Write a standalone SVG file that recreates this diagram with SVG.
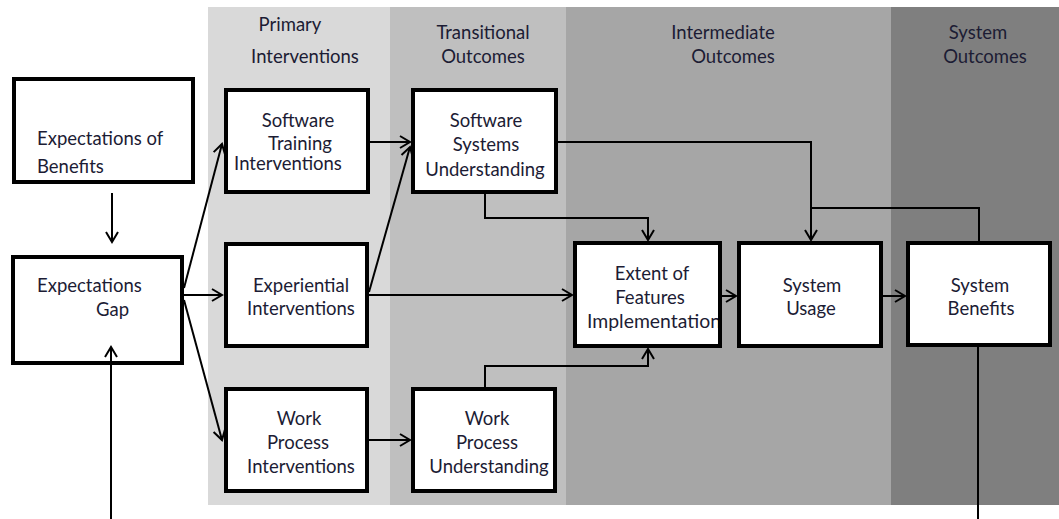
<svg xmlns="http://www.w3.org/2000/svg" width="1059" height="519" viewBox="0 0 1059 519">
<style>
.t{font-family:Lato,"Open Sans","Liberation Sans",sans-serif;font-size:18.5px;fill:#1c1c34}
.m{text-anchor:middle}
.box{fill:#ffffff;stroke:#000000;stroke-width:4}
.c{fill:none;stroke:#000000;stroke-width:2}
.a{marker-end:url(#arr)}
</style>
<defs>
<marker id="arr" markerUnits="userSpaceOnUse" markerWidth="14" markerHeight="16" viewBox="-1 -1 14 16" refX="11" refY="7" orient="auto">
<path d="M1,1 L11,7 L1,13" fill="none" stroke="#000000" stroke-width="2"/>
</marker>
</defs>
<g id="panels">
<rect x="208" y="7" width="182" height="498" fill="#d9d9d9"/>
<rect x="390" y="7" width="176" height="498" fill="#bfbfbf"/>
<rect x="566" y="7" width="325" height="498" fill="#a6a6a6"/>
<rect x="891" y="7" width="168" height="498" fill="#7f7f7f"/>
<text class="t m" x="290" y="31">Primary</text>
<text class="t m" x="305" y="63">Interventions</text>
<text class="t m" x="483" y="39">Transitional</text>
<text class="t m" x="483" y="63">Outcomes</text>
<text class="t m" x="723" y="39">Intermediate</text>
<text class="t m" x="733" y="63">Outcomes</text>
<text class="t m" x="978" y="39">System</text>
<text class="t m" x="985" y="63">Outcomes</text>
</g>
<g id="expectations-of-benefits">
<rect class="box" x="14" y="79" width="179" height="103"/>
<text class="t" x="37" y="145">Expectations of</text>
<text class="t" x="37" y="173">Benefits</text>
</g>
<g id="expectations-gap">
<rect class="box" x="13" y="257" width="169" height="106"/>
<text class="t" x="37" y="292">Expectations</text>
<text class="t" x="96" y="316">Gap</text>
</g>
<g id="software-training-interventions">
<rect class="box" x="226" y="90" width="142" height="102"/>
<text class="t m" x="298" y="127">Software</text>
<text class="t m" x="300" y="150">Training</text>
<text class="t m" x="288" y="170">Interventions</text>
</g>
<g id="experiential-interventions">
<rect class="box" x="226" y="244" width="141" height="102"/>
<text class="t m" x="301" y="292">Experiential</text>
<text class="t m" x="301" y="315">Interventions</text>
</g>
<g id="work-process-interventions">
<rect class="box" x="226" y="389" width="141" height="102"/>
<text class="t m" x="299" y="425">Work</text>
<text class="t m" x="298" y="449">Process</text>
<text class="t m" x="301" y="473">Interventions</text>
</g>
<g id="software-systems-understanding">
<rect class="box" x="413" y="90" width="143" height="102"/>
<text class="t m" x="486" y="127">Software</text>
<text class="t m" x="486" y="151">Systems</text>
<text class="t m" x="485" y="176">Understanding</text>
</g>
<g id="work-process-understanding">
<rect class="box" x="413" y="389" width="142" height="102"/>
<text class="t m" x="487" y="425">Work</text>
<text class="t m" x="487" y="449">Process</text>
<text class="t m" x="489" y="473">Understanding</text>
</g>
<g id="extent-of-features-implementation">
<rect class="box" x="575" y="243" width="145" height="103"/>
<text class="t m" x="652" y="280">Extent of</text>
<text class="t m" x="650" y="304">Features</text>
<text class="t" x="587" y="328" textLength="134" lengthAdjust="spacingAndGlyphs">Implementation</text>
<rect x="575" y="243" width="145" height="103" fill="none" stroke="#000000" stroke-width="4"/>
</g>
<g id="system-usage">
<rect class="box" x="739" y="243" width="142" height="103"/>
<text class="t m" x="812" y="292">System</text>
<text class="t m" x="811" y="315">Usage</text>
</g>
<g id="system-benefits">
<rect class="box" x="908" y="243" width="142" height="102"/>
<text class="t m" x="980" y="292">System</text>
<text class="t m" x="981" y="315">Benefits</text>
</g>
<g id="connectors">
<path class="c a" d="M112,193 L112,242"/>
<path class="c a" d="M111,519 L111,347"/>
<path class="c a" d="M184,288 L222,144"/>
<path class="c a" d="M184,295 L222,295"/>
<path class="c a" d="M184,300 L222,440"/>
<path class="c a" d="M370,142 L410,142"/>
<path class="c a" d="M369,292 L410,147"/>
<path class="c a" d="M369,295 L572,295"/>
<path class="c a" d="M369,440 L410,440"/>
<path class="c a" d="M485,194 L485,218 L648,218 L648,240"/>
<path class="c a" d="M485,387 L485,366 L648,366 L648,349"/>
<path class="c a" d="M558,142 L811,142 L811,240"/>
<path class="c" d="M979,241 L979,208 L811,208"/>
<path class="c a" d="M722,296 L736,296"/>
<path class="c a" d="M883,296 L905,296"/>
<path class="c" d="M978,347 L978,519"/>
</g>
</svg>
